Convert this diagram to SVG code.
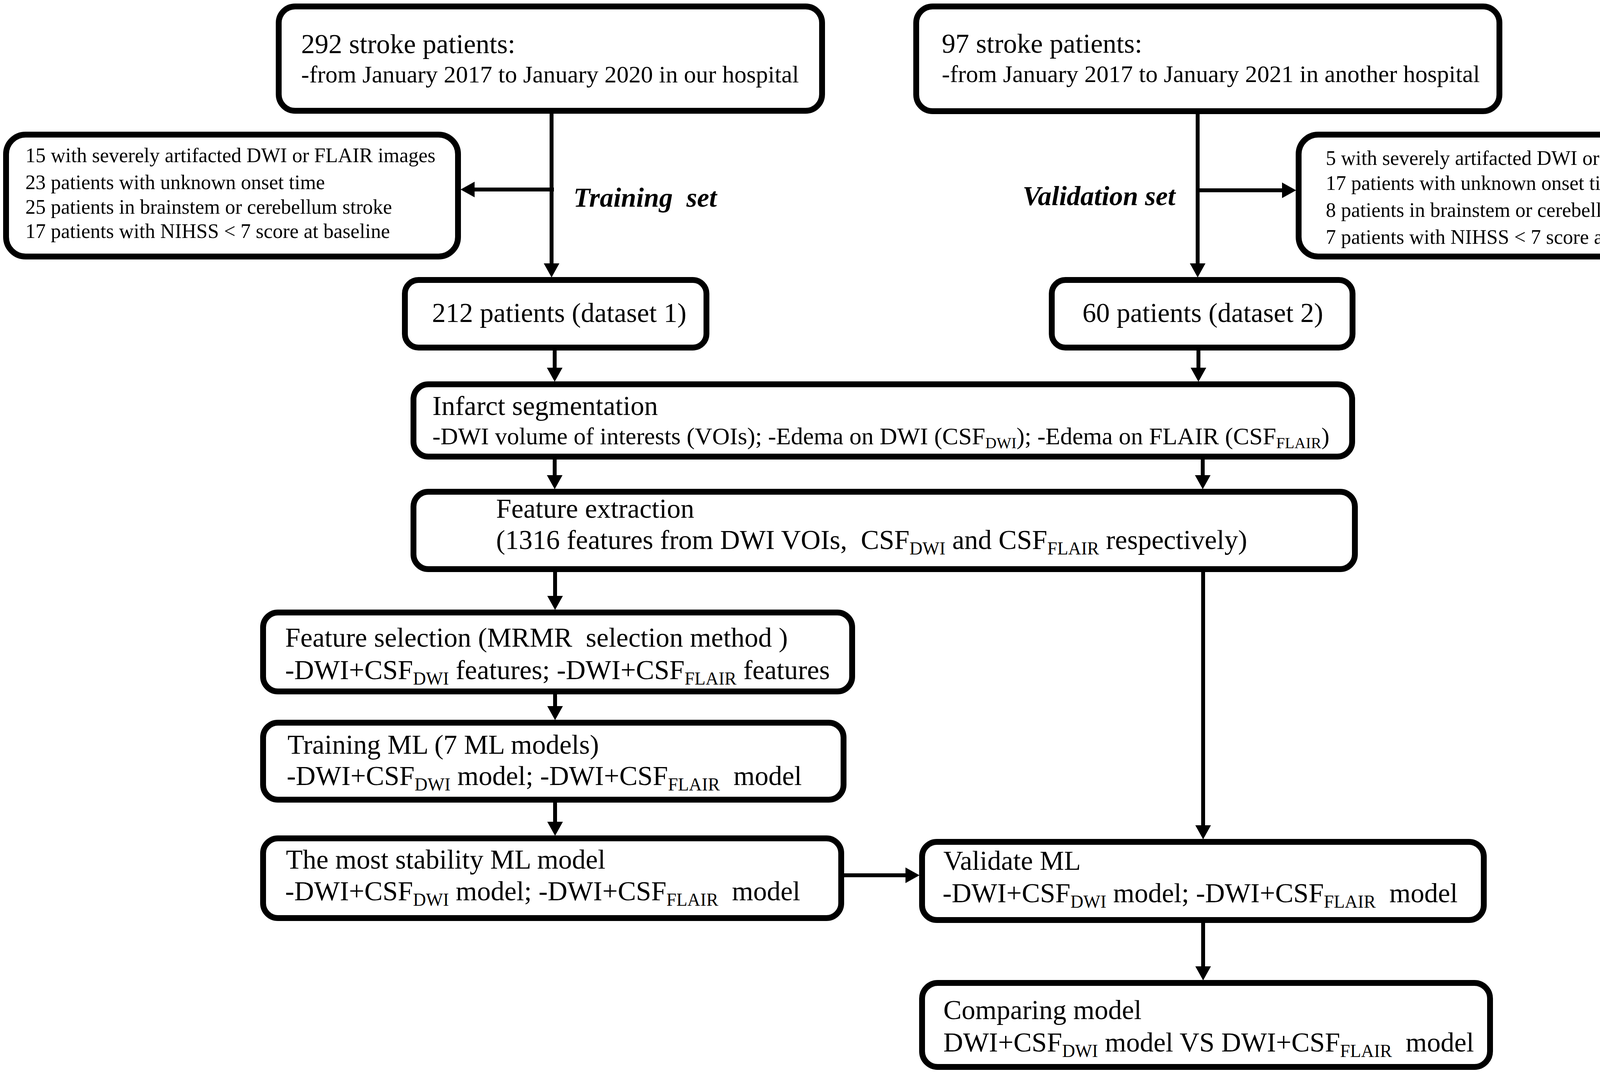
<svg xmlns="http://www.w3.org/2000/svg" width="4562" height="2746" viewBox="0 0 4562 2746">
<defs>
<marker id="ah" markerUnits="userSpaceOnUse" viewBox="0 0 36 40" markerWidth="36" markerHeight="40" refX="1" refY="20" orient="auto">
<path d="M0,0 L36,20 L0,40 Z" fill="#000"/>
</marker>
<style>
.box{fill:#fff;stroke:#000;stroke-width:15}
.t{font-family:"Liberation Serif","Times New Roman",serif;fill:#000;font-size:70px}
.s62{font-size:62px}
.s52{font-size:52px}
.lbl{font-family:"Liberation Serif","Times New Roman",serif;font-weight:bold;font-style:italic;font-size:70px;fill:#000}
.sub{font-size:46px}
.sub40{font-size:40px}
.c{fill:none;stroke:#000;stroke-width:10;marker-end:url(#ah)}
</style>
</defs>
<rect width="4562" height="2746" fill="#fff"/>

<g id="connectors">
<line class="c" x1="1412" y1="291" x2="1412" y2="675"/>
<line class="c" x1="1418" y1="485" x2="1214" y2="485"/>
<line class="c" x1="3066" y1="292" x2="3066" y2="675"/>
<line class="c" x1="3062" y1="487" x2="3283" y2="487"/>
<line class="c" x1="1420" y1="897" x2="1420" y2="942"/>
<line class="c" x1="3068" y1="897" x2="3068" y2="942"/>
<line class="c" x1="1420" y1="1176" x2="1420" y2="1217"/>
<line class="c" x1="3079" y1="1176" x2="3079" y2="1217"/>
<line class="c" x1="1421" y1="1464" x2="1421" y2="1526"/>
<line class="c" x1="3080" y1="1464" x2="3080" y2="2113"/>
<line class="c" x1="1421" y1="1750" x2="1421" y2="1808"/>
<line class="c" x1="1421" y1="2054" x2="1421" y2="2104"/>
<line class="c" x1="2161" y1="2240" x2="2319" y2="2240"/>
<line class="c" x1="3080" y1="2362" x2="3080" y2="2474"/>
<text class="lbl" x="1468" y="529" xml:space="preserve">Training  set</text>
<text class="lbl" x="2618" y="525">Validation set</text>
</g>

<g id="n-source-train">
<rect class="box" x="713.5" y="16.5" width="1391" height="267" rx="42"/>
<text class="t" x="771" y="136">292 stroke patients:</text>
<text class="t s62" x="771" y="211">-from January 2017 to January 2020 in our hospital</text>
</g>

<g id="n-source-valid">
<rect class="box" x="2345.5" y="16.5" width="1493" height="268" rx="42"/>
<text class="t" x="2411" y="135">97 stroke patients:</text>
<text class="t s62" x="2411" y="210">-from January 2017 to January 2021 in another hospital</text>
</g>

<g id="n-excl-train">
<rect class="box" x="15.5" y="344.5" width="1157" height="312" rx="50"/>
<text class="t s52" x="65" y="415">15 with severely artifacted DWI or FLAIR images</text>
<text class="t s52" x="65" y="484">23 patients with unknown onset time</text>
<text class="t s52" x="65" y="547">25 patients in brainstem or cerebellum stroke</text>
<text class="t s52" x="65" y="609">17 patients with NIHSS &lt; 7 score at baseline</text>
</g>

<g id="n-excl-valid">
<rect class="box" x="3324.5" y="344.5" width="1223" height="312" rx="50"/>
<text class="t s52" x="3394" y="422">5 with severely artifacted DWI or FLAIR images</text>
<text class="t s52" x="3394" y="486">17 patients with unknown onset time</text>
<text class="t s52" x="3394" y="555">8 patients in brainstem or cerebellum stroke</text>
<text class="t s52" x="3394" y="624">7 patients with NIHSS &lt; 7 score at baseline</text>
</g>

<g id="n-dataset1">
<rect class="box" x="1036.5" y="716.5" width="772" height="173" rx="35"/>
<text class="t" x="1106" y="824">212 patients (dataset 1)</text>
</g>

<g id="n-dataset2">
<rect class="box" x="2692.5" y="716.5" width="770" height="173" rx="35"/>
<text class="t" x="2771" y="824">60 patients (dataset 2)</text>
</g>

<g id="n-segmentation">
<rect class="box" x="1058.5" y="983.5" width="2403" height="185" rx="38"/>
<text class="t" x="1107" y="1062">Infarct segmentation</text>
<text class="t s62" x="1107" y="1137">-DWI volume of interests (VOIs); -Edema on DWI (CSF<tspan class="sub40" dy="10">DWI</tspan><tspan dy="-10">); -Edema on FLAIR (CSF</tspan><tspan class="sub40" dy="10">FLAIR</tspan><tspan dy="-10">)</tspan></text>
</g>

<g id="n-extraction">
<rect class="box" x="1058.5" y="1258.5" width="2410" height="198" rx="38"/>
<text class="t" x="1270" y="1325">Feature extraction</text>
<text class="t" x="1270" y="1405" xml:space="preserve">(1316 features from DWI VOIs,  CSF<tspan class="sub" dy="14">DWI</tspan><tspan dy="-14"> and CSF</tspan><tspan class="sub" dy="14">FLAIR</tspan><tspan dy="-14"> respectively)</tspan></text>
</g>

<g id="n-selection">
<rect class="box" x="673.5" y="1567.5" width="1508" height="202" rx="38"/>
<text class="t" x="730" y="1655" xml:space="preserve">Feature selection (MRMR  selection method )</text>
<text class="t" x="730" y="1738">-DWI+CSF<tspan class="sub" dy="14">DWI</tspan><tspan dy="-14"> features; -DWI+CSF</tspan><tspan class="sub" dy="14">FLAIR</tspan><tspan dy="-14"> features</tspan></text>
</g>

<g id="n-training">
<rect class="box" x="673.5" y="1849.5" width="1486" height="197" rx="38"/>
<text class="t" x="736" y="1929">Training ML (7 ML models)</text>
<text class="t" x="734" y="2009" xml:space="preserve">-DWI+CSF<tspan class="sub" dy="14">DWI</tspan><tspan dy="-14"> model; -DWI+CSF</tspan><tspan class="sub" dy="14">FLAIR</tspan><tspan dy="-14">  model</tspan></text>
</g>

<g id="n-stability">
<rect class="box" x="673.5" y="2145.5" width="1480" height="204" rx="38"/>
<text class="t" x="732" y="2223">The most stability ML model</text>
<text class="t" x="730" y="2304" xml:space="preserve">-DWI+CSF<tspan class="sub" dy="14">DWI</tspan><tspan dy="-14"> model; -DWI+CSF</tspan><tspan class="sub" dy="14">FLAIR</tspan><tspan dy="-14">  model</tspan></text>
</g>

<g id="n-validate">
<rect class="box" x="2360.5" y="2154.5" width="1438" height="200" rx="38"/>
<text class="t" x="2415" y="2226">Validate ML</text>
<text class="t" x="2413" y="2309" xml:space="preserve">-DWI+CSF<tspan class="sub" dy="14">DWI</tspan><tspan dy="-14"> model; -DWI+CSF</tspan><tspan class="sub" dy="14">FLAIR</tspan><tspan dy="-14">  model</tspan></text>
</g>

<g id="n-comparing">
<rect class="box" x="2360.5" y="2515.5" width="1454" height="215" rx="40"/>
<text class="t" x="2415" y="2608">Comparing model</text>
<text class="t" x="2415" y="2691" xml:space="preserve">DWI+CSF<tspan class="sub" dy="14">DWI</tspan><tspan dy="-14"> model VS DWI+CSF</tspan><tspan class="sub" dy="14">FLAIR</tspan><tspan dy="-14">  model</tspan></text>
</g>
</svg>
